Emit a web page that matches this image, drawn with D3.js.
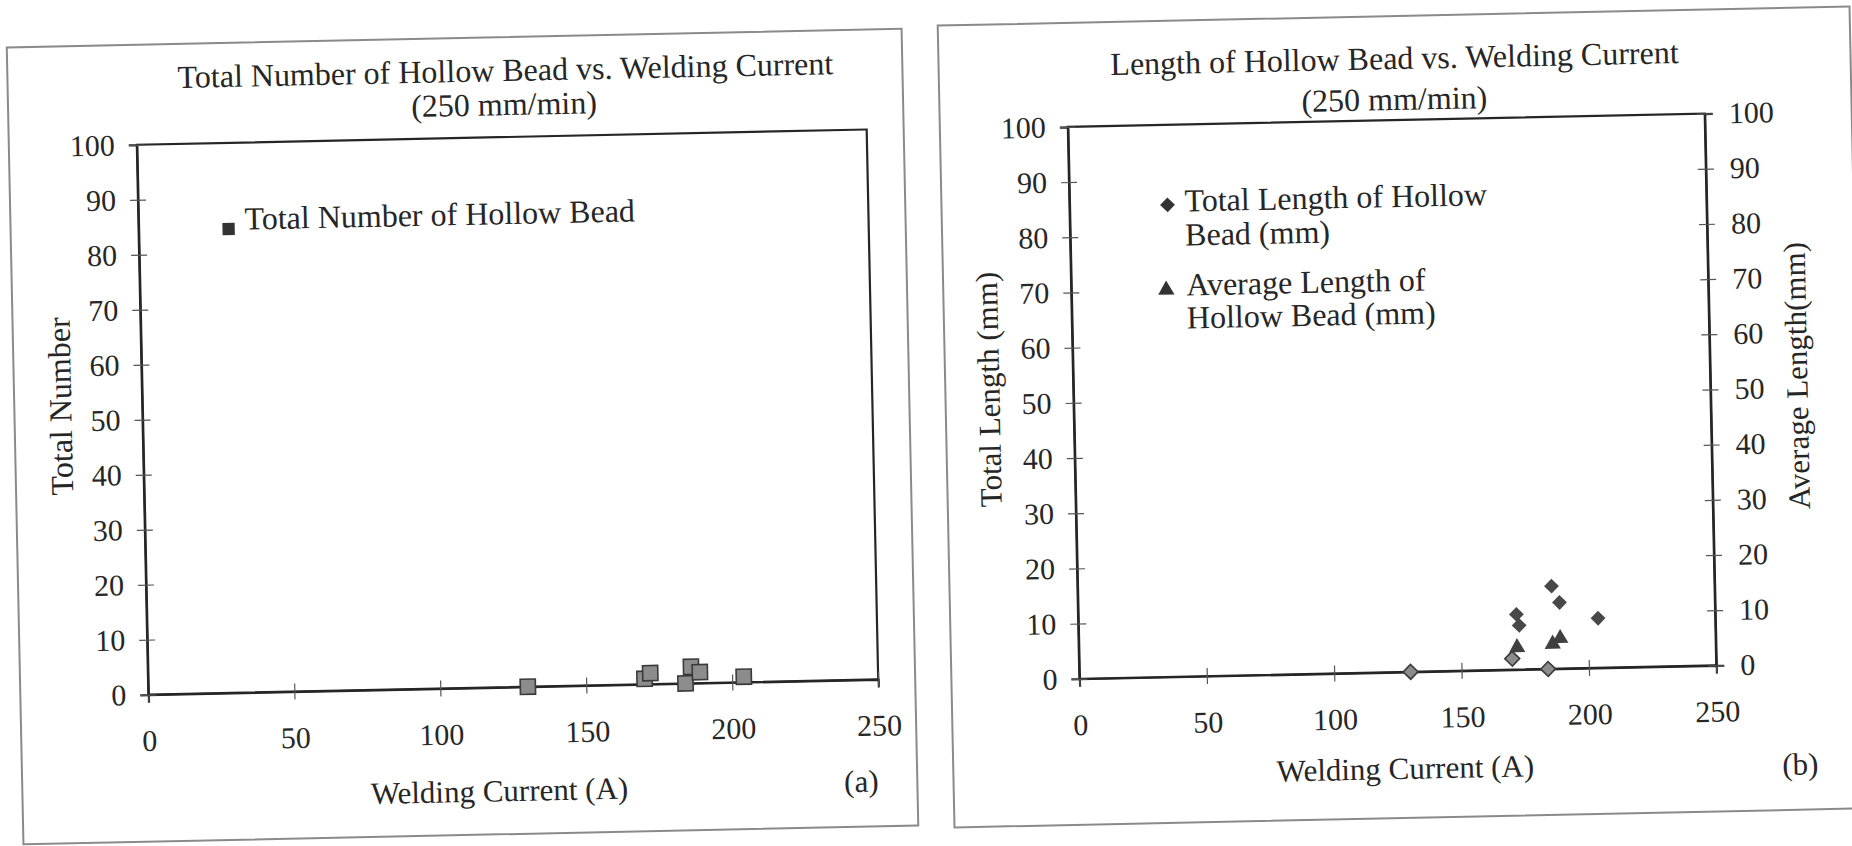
<!DOCTYPE html>
<html>
<head>
<meta charset="utf-8">
<script src="https://cdn.jsdelivr.net/npm/d3@7"></script>
<style>
  html, body { margin: 0; padding: 0; background: #fff; }
  svg text { font-family: "Liberation Serif", "Times New Roman", serif; fill: #262626; }
</style>
</head>
<body>
<svg id="chart" width="1852" height="846"></svg>
<script>
/// data ///
const xTicks = [0, 50, 100, 150, 200, 250];
const yTicks = [0, 10, 20, 30, 40, 50, 60, 70, 80, 90, 100];

// (a) total number of hollow bead
const numberCurrent = [130, 170, 172, 184, 186, 189, 204];
const totalNumber = [0, 1, 2, 0, 3, 2, 1];

// (b) total / average length of hollow bead
const lengthCurrent = [130, 170, 172, 173, 184, 186, 189, 204];
const totalLength = [0, 2, 10, 8, 0, 15, 12, 9];
const avgCurrent = [172, 186, 189];
const avgLength = [4, 4.5, 5.5];

/// constants ///
const tilt = -1.2;          // the scan is slightly rotated
const fontSize = 31;
const titleFont = 32;
const tickFont = 30;
const ink = "#262626";

const svg = d3.select("#chart");

// cross style ticks like the excel original
function styleAxis(g, side) {
  g.attr("font-family", null).attr("font-size", tickFont);
  g.select(".domain").attr("stroke", ink).attr("stroke-width", 2.2);
  g.selectAll(".tick line").attr("stroke", "#555").attr("stroke-width", 1.2);
  if (side === "x") g.selectAll(".tick line").attr("y1", -8).attr("y2", 8);
  else g.selectAll(".tick line").attr("x1", -8).attr("x2", 8);
  g.selectAll(".tick text").attr("fill", ink);
}

/////////////////////////////////////////////
//////////////// Panel (a) //////////////////
/////////////////////////////////////////////
const pa = { x0: 143, x1: 873, y0: 138, y1: 688 };
const ga = svg.append("g").attr("transform", `rotate(${tilt}, 464, 436)`);

ga.append("rect")
  .attr("x", 15).attr("y", 38).attr("width", 895).attr("height", 797)
  .attr("fill", "none").attr("stroke", "#8a8a8a").attr("stroke-width", 2);

const xa = d3.scaleLinear().domain([0, 250]).range([pa.x0, pa.x1]);
const ya = d3.scaleLinear().domain([0, 100]).range([pa.y1, pa.y0]);

ga.append("rect")
  .attr("x", pa.x0).attr("y", pa.y0)
  .attr("width", pa.x1 - pa.x0).attr("height", pa.y1 - pa.y0)
  .attr("fill", "none").attr("stroke", ink).attr("stroke-width", 2.2);

ga.append("g")
  .attr("transform", `translate(0, ${pa.y1})`)
  .call(d3.axisBottom(xa).tickValues(xTicks).tickSizeOuter(0).tickSize(8).tickPadding(27))
  .call(g => styleAxis(g, "x"));

ga.append("g")
  .attr("transform", `translate(${pa.x0}, 0)`)
  .call(d3.axisLeft(ya).tickValues(yTicks).tickSizeOuter(0).tickSize(8).tickPadding(14))
  .call(g => styleAxis(g, "y"));

// titles
ga.append("text").attr("x", 513).attr("y", 82).attr("text-anchor", "middle")
  .attr("font-size", titleFont).text("Total Number of Hollow Bead vs. Welding Current");
ga.append("text").attr("x", 511).attr("y", 116).attr("text-anchor", "middle")
  .attr("font-size", titleFont).text("(250 mm/min)");
ga.append("text").attr("x", 492).attr("y", 802).attr("text-anchor", "middle")
  .attr("font-size", fontSize).text("Welding Current (A)");
ga.append("text").attr("x", 854).attr("y", 800).attr("text-anchor", "middle")
  .attr("font-size", fontSize).text("(a)");
ga.append("text").attr("transform", "translate(72, 398) rotate(-90)").attr("text-anchor", "middle")
  .attr("font-size", titleFont).text("Total Number");

// legend
ga.append("path").attr("d", d3.symbol(d3.symbolSquare, 150)())
  .attr("transform", "translate(233, 224)").attr("fill", "#333");
ga.append("text").attr("x", 249).attr("y", 225).attr("font-size", titleFont)
  .text("Total Number of Hollow Bead");

// points
ga.selectAll(".sq").data(numberCurrent.map((c, i) => [c, totalNumber[i]])).join("path")
  .attr("class", "sq")
  .attr("d", d3.symbol(d3.symbolSquare, 230)())
  .attr("transform", d => `translate(${xa(d[0])}, ${ya(d[1])})`)
  .attr("fill", "#8c8c8c").attr("stroke", "#3a3a3a").attr("stroke-width", 1.6);

/////////////////////////////////////////////
//////////////// Panel (b) //////////////////
/////////////////////////////////////////////
const pb = { x0: 1074, x1: 1711, y0: 120, y1: 672 };
const gb = svg.append("g").attr("transform", `rotate(${tilt}, 1400, 417)`);

gb.append("rect")
  .attr("x", 946).attr("y", 16).attr("width", 912).attr("height", 802)
  .attr("fill", "none").attr("stroke", "#8a8a8a").attr("stroke-width", 2);

const xb = d3.scaleLinear().domain([0, 250]).range([pb.x0, pb.x1]);
const yb = d3.scaleLinear().domain([0, 100]).range([pb.y1, pb.y0]);
const yb2 = d3.scaleLinear().domain([0, 100]).range([pb.y1, pb.y0]);

gb.append("rect")
  .attr("x", pb.x0).attr("y", pb.y0)
  .attr("width", pb.x1 - pb.x0).attr("height", pb.y1 - pb.y0)
  .attr("fill", "none").attr("stroke", ink).attr("stroke-width", 2.2);

gb.append("g")
  .attr("transform", `translate(0, ${pb.y1})`)
  .call(d3.axisBottom(xb).tickValues(xTicks).tickSizeOuter(0).tickSize(8).tickPadding(27))
  .call(g => styleAxis(g, "x"));

gb.append("g")
  .attr("transform", `translate(${pb.x0}, 0)`)
  .call(d3.axisLeft(yb).tickValues(yTicks).tickSizeOuter(0).tickSize(8).tickPadding(14))
  .call(g => styleAxis(g, "y"));

gb.append("g")
  .attr("transform", `translate(${pb.x1}, 0)`)
  .call(d3.axisRight(yb2).tickValues(yTicks).tickSizeOuter(0).tickSize(8).tickPadding(16))
  .call(g => styleAxis(g, "y"));

// titles
gb.append("text").attr("x", 1402).attr("y", 69).attr("text-anchor", "middle")
  .attr("font-size", titleFont).text("Length of Hollow Bead vs. Welding Current");
gb.append("text").attr("x", 1401).attr("y", 110).attr("text-anchor", "middle")
  .attr("font-size", titleFont).text("(250 mm/min)");
gb.append("text").attr("x", 1398).attr("y", 779).attr("text-anchor", "middle")
  .attr("font-size", fontSize).text("Welding Current (A)");
gb.append("text").attr("x", 1793).attr("y", 783).attr("text-anchor", "middle")
  .attr("font-size", fontSize).text("(b)");
gb.append("text").attr("transform", "translate(1000, 381) rotate(-90)").attr("text-anchor", "middle")
  .attr("font-size", fontSize).text("Total Length (mm)");
gb.append("text").attr("transform", "translate(1808, 384) rotate(-90)").attr("text-anchor", "middle")
  .attr("font-size", fontSize).text("Average Length(mm)");

// legend
const diamond = d3.symbol(d3.symbolSquare, 110)();
const triangle = d3.symbol(d3.symbolTriangle, 115)();
gb.append("path").attr("d", diamond)
  .attr("transform", "translate(1172, 200) rotate(45)").attr("fill", "#333");
gb.append("text").attr("x", 1189).attr("y", 207).attr("font-size", titleFont).text("Total Length of Hollow");
gb.append("text").attr("x", 1189).attr("y", 241).attr("font-size", titleFont).text("Bead (mm)");
gb.append("path").attr("d", triangle)
  .attr("transform", "translate(1169, 285)").attr("fill", "#333");
gb.append("text").attr("x", 1189).attr("y", 291).attr("font-size", titleFont).text("Average Length of");
gb.append("text").attr("x", 1189).attr("y", 324).attr("font-size", titleFont).text("Hollow Bead (mm)");

// points: total length (left axis), average length (right axis)
gb.selectAll(".dia").data(lengthCurrent.map((c, i) => [c, totalLength[i]])).join("path")
  .attr("class", "dia")
  .attr("d", diamond)
  .attr("transform", d => `translate(${xb(d[0])}, ${yb(d[1])}) rotate(45)`)
  .attr("fill", d => d[1] < 3 ? "#8c8c8c" : "#484848")
  .attr("stroke", "#3a3a3a").attr("stroke-width", d => d[1] < 3 ? 1.6 : 0);

gb.selectAll(".tri").data(avgCurrent.map((c, i) => [c, avgLength[i]])).join("path")
  .attr("class", "tri")
  .attr("d", triangle)
  .attr("transform", d => `translate(${xb(d[0])}, ${yb2(d[1])})`)
  .attr("fill", "#404040");
</script>
</body>
</html>
